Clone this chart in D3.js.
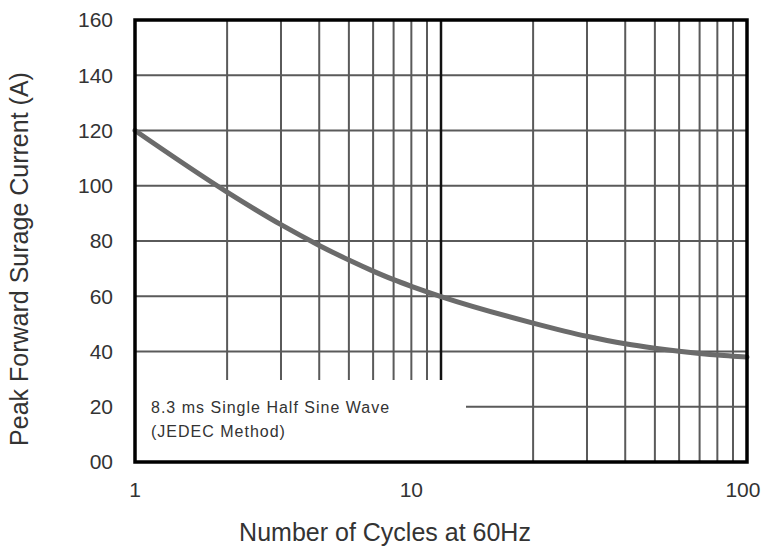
<!DOCTYPE html>
<html>
<head>
<meta charset="utf-8">
<script src="https://cdn.jsdelivr.net/npm/d3@7"></script>
<style>
    body { margin: 0; background: #fff; }
    text { font-family: "Liberation Sans", Arial, sans-serif; fill: #333; }
    .gridLines { stroke: #5a5a5a; stroke-width: 2; }
    .decadeLine { stroke: #111; stroke-width: 2.5; }
    .surgeCurve { fill: none; stroke: #6b6b6b; stroke-width: 5; stroke-linecap: round; }
    .frame { fill: none; stroke: #000; stroke-width: 3.5; }
</style>
</head>
<body>
<script>
//pseudo-global data
var cycles = [1, 2, 3, 4, 5, 6, 7, 8, 9, 10, 20, 30, 40, 50, 60, 70, 80, 90, 100];
var surgeCurrent = [120, 97.7, 85.9, 78.4, 73.1, 69.1, 66.0, 63.6, 61.6, 59.9, 50.3, 45.5, 42.8, 41.2, 40.1, 39.3, 38.7, 38.3, 38.0];
var xGridValues = [2, 3, 4, 5, 6, 7, 8, 9, 10, 20, 30, 40, 50, 60, 70, 80, 90];
var yTickValues = [0, 20, 40, 60, 80, 100, 120, 140, 160];
var yTickLabels = ["00", "20", "40", "60", "80", "100", "120", "140", "160"];
var xTickLabels = ["1", "10", "100"];
var xTickLabelAt = [1, 8, 97]; //where the source drew each label (its "10" sits left of the decade line)
var noteLines = ["8.3 ms Single Half Sine Wave", "(JEDEC Method)"];

(function(){

    var width = 763,
        height = 550,
        margin = {top: 20, right: 16, bottom: 88, left: 135};

    var svg = d3.select("body")
        .append("svg")
        .attr("width", width)
        .attr("height", height);

    var x = d3.scaleLog()
        .domain([1, 100])
        .range([margin.left, width - margin.right]);

    var y = d3.scaleLinear()
        .domain([0, 160])
        .range([height - margin.bottom, margin.top]);

    //horizontal grid
    svg.selectAll(".hGrid")
        .data(yTickValues.filter(function(d){ return d > 0 && d < 160; }))
        .enter()
        .append("line")
        .attr("class", "gridLines")
        .attr("x1", x(1))
        .attr("x2", x(100))
        .attr("y1", function(d){ return y(d); })
        .attr("y2", function(d){ return y(d); });

    //vertical grid
    svg.selectAll(".vGrid")
        .data(xGridValues)
        .enter()
        .append("line")
        .attr("class", function(d){ return d == 10 ? "decadeLine" : "gridLines"; })
        .attr("x1", function(d){ return x(d); })
        .attr("x2", function(d){ return x(d); })
        .attr("y1", y(160))
        .attr("y2", y(0));

    //blank box behind the note
    svg.append("rect")
        .attr("x", x(1))
        .attr("y", 380)
        .attr("width", 466 - x(1))
        .attr("height", y(0) - 380)
        .attr("fill", "#fff");

    var note = svg.append("text")
        .attr("x", 151)
        .attr("y", 413)
        .style("font-size", "16px")
        .style("letter-spacing", "1px");
    note.selectAll("tspan")
        .data(noteLines)
        .enter()
        .append("tspan")
        .attr("x", 151)
        .attr("dy", function(d, i){ return i == 0 ? 0 : 24; })
        .text(function(d){ return d; });

    //surge curve
    var line = d3.line()
        .x(function(d){ return x(d[0]); })
        .y(function(d){ return y(d[1]); })
        .curve(d3.curveMonotoneX);

    svg.append("path")
        .datum(cycles.map(function(c, i){ return [c, surgeCurrent[i]]; }))
        .attr("class", "surgeCurve")
        .attr("d", line);

    //frame
    svg.append("rect")
        .attr("class", "frame")
        .attr("x", x(1))
        .attr("y", y(160))
        .attr("width", x(100) - x(1))
        .attr("height", y(0) - y(160));

    //y tick labels
    svg.selectAll(".yLabel")
        .data(yTickValues)
        .enter()
        .append("text")
        .attr("x", x(1) - 22)
        .attr("y", function(d){ return y(d); })
        .attr("dy", "0.35em")
        .attr("text-anchor", "end")
        .style("font-size", "21px")
        .text(function(d, i){ return yTickLabels[i]; });

    //x tick labels
    svg.selectAll(".xLabel")
        .data(xTickLabels)
        .enter()
        .append("text")
        .attr("x", function(d, i){ return x(xTickLabelAt[i]); })
        .attr("y", y(0) + 35)
        .attr("text-anchor", "middle")
        .style("font-size", "21px")
        .text(function(d){ return d; });

    //axis titles
    svg.append("text")
        .attr("x", 385)
        .attr("y", 541)
        .attr("text-anchor", "middle")
        .style("font-size", "25px")
        .text("Number of Cycles at 60Hz");

    svg.append("text")
        .attr("transform", "translate(28," + 259 + ") rotate(-90)")
        .attr("text-anchor", "middle")
        .style("font-size", "25px")
        .text("Peak Forward Surage Current (A)");

})();
</script>
</body>
</html>
